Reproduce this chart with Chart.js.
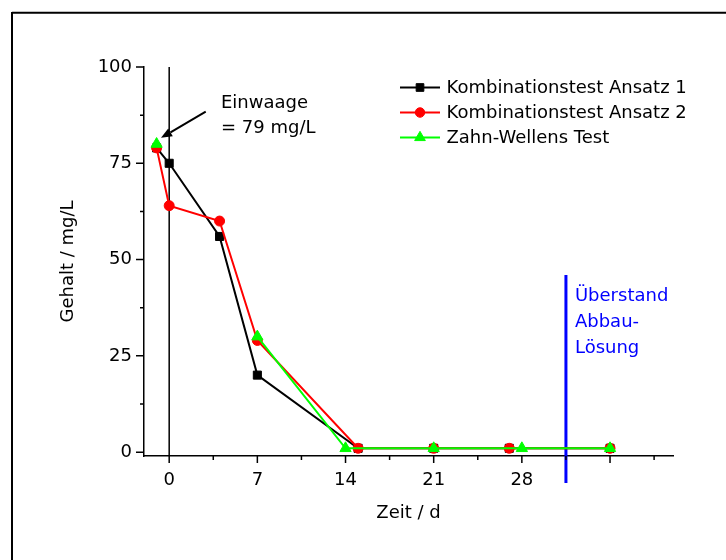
<!DOCTYPE html>
<html><head><meta charset="utf-8">
<script src="https://cdn.jsdelivr.net/npm/chart.js@4/dist/chart.umd.min.js"></script>
<style>html,body{margin:0;padding:0;background:#fff;} #wrap{width:726px;height:560px;}</style>
</head><body><div id="wrap"><canvas id="c" width="726" height="560"></canvas></div>
<script>
// ---- data ----
const seriesNames = ['Kombinationstest Ansatz 1', 'Kombinationstest Ansatz 2', 'Zahn-Wellens Test'];
const daysAnsatz1 = [-1, 0, 4, 7, 15, 21, 27, 35];
const valuesAnsatz1 = [79, 75, 56, 20, 1, 1, 1, 1];
const daysAnsatz2 = [-1, 0, 4, 7, 15, 21, 27, 35];
const valuesAnsatz2 = [79, 64, 60, 29, 1, 1, 1, 1];
const daysZahnWellens = [-1, 3, 7, 14, 21, 28, 35];
const valuesZahnWellens = [80, null, 30, 1, 1, 1, 1];
const startLineDays = [0, 0];
const startLineValues = [100, -1];
const supernatantDays = [31.5, 31.5];
const supernatantValues = [46, -8];
const xTickValues = [0, 3.5, 7, 10.5, 14, 17.5, 21, 24.5, 28, 31.5, 35, 38.5];
const xMajorTicks = [0, 7, 14, 21, 28, 35];
const xTickLabels = ['0', '7', '14', '21', '28'];
const yTickValues = [0, 12.5, 25, 37.5, 50, 62.5, 75, 87.5, 100];
const yTickLabels = ['0', '25', '50', '75', '100'];
const annotationLines = ['Einwaage', '= 79 mg/L'];
const arrowFrom = [2.9, 88.4];
const arrowTo = [-0.65, 81.6];
const supernatantLines = ['Überstand', 'Abbau-', 'Lösung'];

const FONT = 'DejaVu Sans';
Chart.defaults.font.family = FONT;
Chart.defaults.font.size = 18;
Chart.defaults.color = '#000';

const pts = (xs, ys) => xs.map((x, i) => ({x: x, y: ys[i]}));

const styles = [
  {color: '#000000', pointStyle: 'rect', radius: 5.7},
  {color: '#ff0000', pointStyle: 'circle', radius: 5},
  {color: '#00ff00', pointStyle: 'triangle', radius: 6.5}
];

function seriesDataset(i, xs, ys, order) {
  const s = styles[i];
  return {
    label: seriesNames[i], data: pts(xs, ys), order: order,
    borderColor: s.color, backgroundColor: s.color, borderWidth: 2,
    pointStyle: s.pointStyle, pointRadius: s.radius,
    pointBackgroundColor: s.color, pointBorderColor: s.color, pointBorderWidth: 1,
    spanGaps: false, tension: 0
  };
}

function drawMarker(ctx, style, x, y, r, color) {
  ctx.save();
  ctx.fillStyle = color; ctx.strokeStyle = color; ctx.lineWidth = 1;
  ctx.beginPath();
  if (style === 'rect') { const s = r * Math.SQRT1_2; ctx.rect(x - s, y - s, 2 * s, 2 * s); }
  else if (style === 'circle') { ctx.arc(x, y, r, 0, Math.PI * 2); }
  else {
    ctx.moveTo(x, y - r);
    ctx.lineTo(x + Math.sin(Math.PI / 3) * r, y + 0.5 * r);
    ctx.lineTo(x - Math.sin(Math.PI / 3) * r, y + 0.5 * r);
    ctx.closePath();
  }
  ctx.fill(); ctx.stroke();
  ctx.restore();
}

const decor = {
  id: 'decor',
  afterDraw(chart) {
    const ctx = chart.ctx;
    const xs = chart.scales.x, ys = chart.scales.y;
    const area = chart.chartArea;
    ctx.save();
    // frame
    ctx.strokeStyle = '#000'; ctx.lineWidth = 2;
    ctx.beginPath();
    ctx.moveTo(12, 12.7); ctx.lineTo(726, 12.7);
    ctx.moveTo(12, 12); ctx.lineTo(12, 560);
    ctx.stroke();
    // ticks
    ctx.lineWidth = 1.5;
    ctx.beginPath();
    xTickValues.forEach(v => {
      const px = xs.getPixelForValue(v);
      const len = xMajorTicks.includes(v) ? 7 : 4;
      ctx.moveTo(px, area.bottom); ctx.lineTo(px, area.bottom + len);
    });
    yTickValues.forEach(v => {
      const py = ys.getPixelForValue(v);
      const len = (v % 25 === 0) ? 8 : 4;
      ctx.moveTo(area.left - len, py); ctx.lineTo(area.left, py);
    });
    ctx.stroke();
    // arrow
    const ax0 = xs.getPixelForValue(arrowFrom[0]), ay0 = ys.getPixelForValue(arrowFrom[1]);
    const ax1 = xs.getPixelForValue(arrowTo[0]), ay1 = ys.getPixelForValue(arrowTo[1]);
    const ang = Math.atan2(ay1 - ay0, ax1 - ax0);
    const hl = 11, hw = 4.5;
    const bx = ax1 - Math.cos(ang) * hl, by = ay1 - Math.sin(ang) * hl;
    ctx.lineWidth = 2;
    ctx.beginPath(); ctx.moveTo(ax0, ay0); ctx.lineTo(bx, by); ctx.stroke();
    ctx.fillStyle = '#000';
    ctx.beginPath();
    ctx.moveTo(ax1, ay1);
    ctx.lineTo(bx + Math.sin(ang) * hw, by - Math.cos(ang) * hw);
    ctx.lineTo(bx - Math.sin(ang) * hw, by + Math.cos(ang) * hw);
    ctx.closePath(); ctx.fill();
    // annotation text
    ctx.font = '18px "' + FONT + '"';
    ctx.textAlign = 'left'; ctx.textBaseline = 'alphabetic';
    ctx.fillStyle = '#000';
    ctx.fillText(annotationLines[0], 221, 107.5);
    ctx.fillText(annotationLines[1], 221, 133.3);
    ctx.fillStyle = '#0000ff';
    const sx = xs.getPixelForValue(supernatantDays[0]) + 9;
    ctx.fillText(supernatantLines[0], sx, 301);
    ctx.fillText(supernatantLines[1], sx, 327);
    ctx.fillText(supernatantLines[2], sx, 352.5);
    // legend
    const rows = [87.5, 112.5, 137.5];
    rows.forEach((ry, i) => {
      const s = styles[i];
      ctx.strokeStyle = s.color; ctx.lineWidth = 2;
      ctx.beginPath(); ctx.moveTo(400, ry); ctx.lineTo(440, ry); ctx.stroke();
      drawMarker(ctx, s.pointStyle, 420, ry, s.radius * 0.95, s.color);
      ctx.fillStyle = '#000';
      ctx.textBaseline = 'middle';
      ctx.fillText(seriesNames[i], 446.5, ry + 0.5);
    });
    ctx.restore();
  }
};

new Chart(document.getElementById('c'), {
  type: 'line',
  data: {
    datasets: [
      seriesDataset(0, daysAnsatz1, valuesAnsatz1, 3),
      seriesDataset(1, daysAnsatz2, valuesAnsatz2, 2),
      seriesDataset(2, daysZahnWellens, valuesZahnWellens, 1),
      {label: 'start', data: pts(startLineDays, startLineValues), order: 4,
       borderColor: '#000', borderWidth: 1.5, pointRadius: 0, clip: false},
      {label: 'supernatant', data: pts(supernatantDays, supernatantValues), order: 5,
       borderColor: '#0000ff', borderWidth: 3, pointRadius: 0, clip: false}
    ]
  },
  options: {
    responsive: false, animation: false, devicePixelRatio: 1,
    layout: {padding: {top: 67, right: 53, left: 0, bottom: 0}},
    plugins: {legend: {display: false}, tooltip: {enabled: false}},
    scales: {
      x: {
        type: 'linear', min: -2, max: 40,
        afterBuildTicks: s => { s.ticks = xTickValues.map(v => ({value: v})); },
        afterFit: s => { s.height = 104; },
        ticks: {
          autoSkip: false, maxRotation: 0, padding: 14, color: '#000',
          callback: v => xTickLabels.includes(String(v)) ? String(v) : ''
        },
        grid: {display: false, drawTicks: false},
        border: {display: true, color: '#000', width: 1.5},
        title: {display: true, text: 'Zeit / d', color: '#000', padding: {top: 0, bottom: 36}}
      },
      y: {
        type: 'linear', min: -1, max: 100,
        afterBuildTicks: s => { s.ticks = yTickValues.map(v => ({value: v})); },
        afterFit: s => { s.width = 144; },
        ticks: {
          autoSkip: false, padding: 12, color: '#000',
          callback: v => yTickLabels.includes(String(v)) ? String(v) : ''
        },
        grid: {display: false, drawTicks: false},
        border: {display: true, color: '#000', width: 1.5},
        title: {display: true, text: 'Gehalt / mg/L', color: '#000', padding: {top: 58, bottom: 0}}
      }
    }
  },
  plugins: [decor]
});
</script>
</body></html>
